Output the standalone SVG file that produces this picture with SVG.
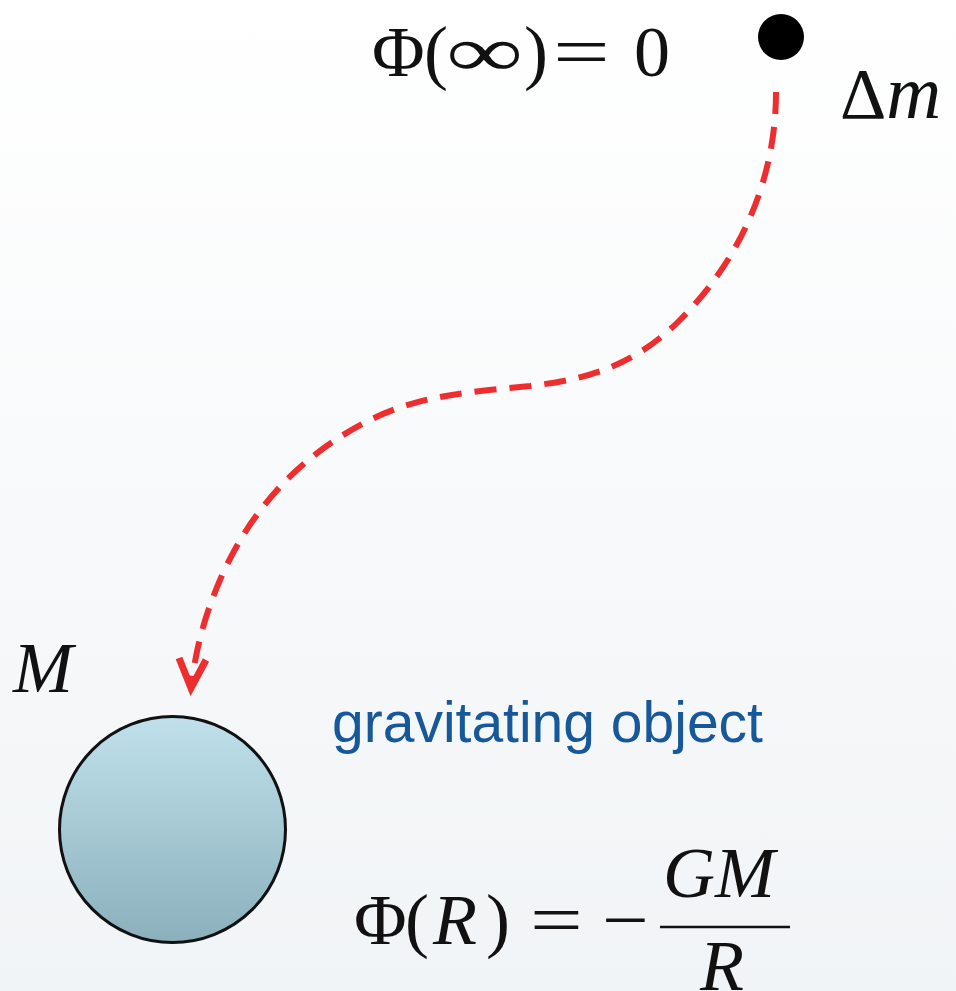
<svg xmlns="http://www.w3.org/2000/svg" width="956" height="991" viewBox="0 0 956 991">
<defs>
<linearGradient id="bg" x1="0" y1="0" x2="0" y2="1"><stop offset="0" stop-color="#ffffff"/><stop offset="1" stop-color="#f1f4f6"/></linearGradient>
<linearGradient id="ball" x1="0" y1="0" x2="0" y2="1"><stop offset="0" stop-color="#c0e1eb"/><stop offset="1" stop-color="#8bb0bc"/></linearGradient>
<style>
.m{font-family:"Liberation Serif","DejaVu Serif",serif;fill:#111;font-size:72px;}
.i{font-style:italic;}
.path{fill:none;stroke:#ee2e2e;stroke-width:6;stroke-dasharray:22 13;stroke-linecap:butt;}
.head{fill:none;stroke:#ee2e2e;stroke-width:7;stroke-linejoin:miter;}
</style>
</defs>
<rect width="956" height="991" fill="url(#bg)"/>
<g id="connectors">
<path class="path" d="M776,92 C776,180 740,260 680,320 C630,370 580,380 530,386 C470,392 420,395 370,420 C300,455 250,510 220,580 C205,615 197,645 192,680"/>
<path class="head" d="M179,658 L191,688 L206,660"/>
</g>
<g id="mass-dm">
<circle cx="781" cy="37" r="23" fill="#000"/>
<text class="m" x="840" y="118">Δ<tspan class="i" font-size="76">m</tspan></text>
</g>
<g id="phi-inf">
<text class="m" y="76"><tspan x="372">Φ</tspan><tspan x="424">(</tspan></text>
<text class="m" transform="translate(446 76) scale(1.5 1)" x="0" y="0">∞</text>
<text class="m" y="76"><tspan x="524">)</tspan></text>
<text class="m" transform="translate(553 76) scale(1.4 1)" x="0" y="0">=</text>
<text class="m" x="634" y="76">0</text>
</g>
<g id="object">
<circle cx="172.5" cy="829.5" r="113" fill="url(#ball)" stroke="#111" stroke-width="3"/>
<text class="m i" x="13" y="692">M</text>
<text x="332" y="742" font-family="Liberation Sans, Arial, sans-serif" font-size="57" fill="#17589a">gravitating object</text>
</g>
<g id="phi-r">
<text class="m" y="944"><tspan x="354">Φ</tspan><tspan x="405">(</tspan></text>
<text class="m i" x="433" y="944">R</text>
<text class="m" x="486" y="944">)</text>
<text class="m" transform="translate(530 944) scale(1.3 1)" x="0" y="0">=</text>
<text class="m" transform="translate(602 944) scale(1.15 1)" x="0" y="0">−</text>
<text class="m i" x="663" y="897">GM</text>
<line x1="660" y1="927" x2="790" y2="927" stroke="#111" stroke-width="2.5"/>
<text class="m i" x="700" y="990">R</text>
</g>
</svg>
